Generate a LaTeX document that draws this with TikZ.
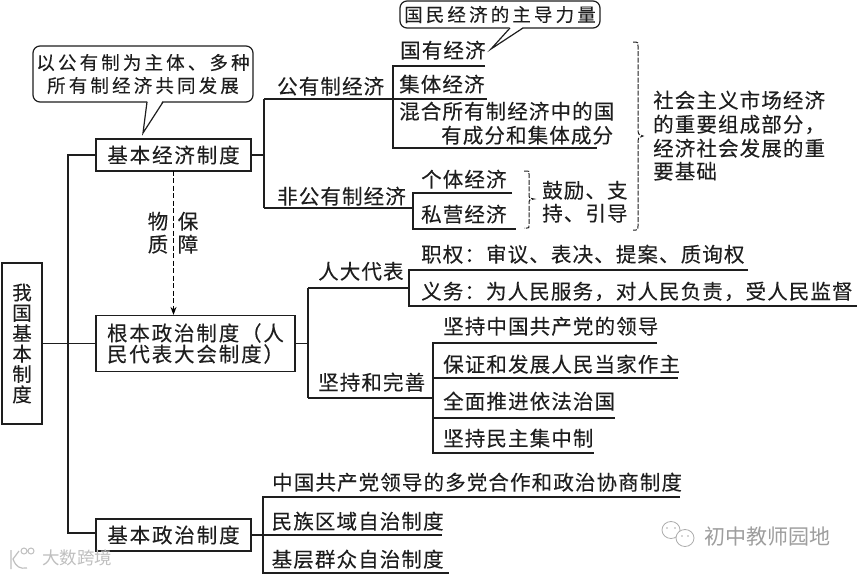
\documentclass[tikz,border=0pt]{standalone}
\usepackage{fontspec}
\usetikzlibrary{arrows.meta}
\setmainfont{Liberation Serif}
\newfontfamily\cjk[LetterSpace=5.5,FakeBold=0.12]{Noto Sans CJK SC}
\newfontfamily\cjkbox[LetterSpace=9,FakeBold=0.12]{Noto Sans CJK SC}
\newfontfamily\cjkwide[LetterSpace=17,FakeBold=0.08]{Noto Sans CJK SC}
\newfontfamily\cjkplain[FakeBold=0.12]{Noto Sans CJK SC}
\newfontfamily\cjkmark{Noto Sans CJK SC}
\definecolor{ink}{HTML}{1E1E1E}
\tikzset{
  ln/.style={draw=ink,line width=1.2pt},
  boxn/.style={draw=ink,line width=1.2pt,fill=white,inner sep=0pt,align=center,text=ink,font=\cjkbox\fontsize{20.5}{21}\selectfont},
  txt/.style={anchor=west,inner sep=0pt,text=ink,text height=16pt,text depth=2pt,font=\cjk\fontsize{20.5}{25}\selectfont},
  call/.style={draw=ink,line width=1.2pt,rounded corners=7pt,fill=white,inner sep=0pt,align=center,text=ink,font=\cjkwide\fontsize{18.5}{23}\selectfont},
  bracel/.style={draw=ink,line width=1pt,dash pattern=on 5pt off 1.6pt},
  dashl/.style={draw=black,line width=1.5pt,dash pattern=on 5pt off 2.5pt},
  wm/.style={anchor=west,inner sep=0pt,text=black!38,font=\cjkmark\fontsize{21}{24}\selectfont},
  wmline/.style={draw=black!32,line width=.8pt},
}
\begin{document}
\begin{tikzpicture}[x=1pt,y=-1pt,>={Stealth[length=8pt,width=6pt]}]
\useasboundingbox (0,0) rectangle (857,574);
\fill[white] (0,0) rectangle (857,574);

% main boxes
\node[boxn,minimum width=40pt,minimum height=161pt,font=\cjkplain\fontsize{19.5}{20.4}\selectfont] (root) at (22,343.5) {我\\国\\基\\本\\制\\度};
\node[boxn,minimum width=155pt,minimum height=32pt] (econ) at (173.5,155) {基本经济制度};
\node[boxn,minimum width=199pt,minimum height=56pt,align=left] (peop) at (195.5,343.5) {根本政治制度（人\\民代表大会制度）};
\node[boxn,minimum width=155pt,minimum height=32pt] (poli) at (173.5,535) {基本政治制度};

% trunk
\coordinate (tTop) at (68,155);
\coordinate (tBot) at (68,533);
\draw[ln] (econ.west) -- (tTop) -- (tBot) -- (poli.west |- tBot);
\draw[ln] (root.east) -- (peop.west);
\draw[dashl,->,xshift=-1pt] ([yshift=1pt]econ.south) -- (peop.north -| econ.south);

\node[txt,anchor=center] (wu) at (158,222) {物};
\node[txt,anchor=center] (zhi) at (158,245) {质};
\node[txt,anchor=center] (bao) at (188,222) {保};
\node[txt,anchor=center] (zhang) at (188,245) {障};

% economy
\coordinate (eJ) at (264,155);
\coordinate (eA) at (264,99);
\coordinate (eB) at (264,208);
\coordinate (pubJ) at (393,99);
\coordinate (pubT) at (393,66);
\coordinate (pubB) at (393,148);
\coordinate (prvJ) at (413,208);
\coordinate (prvT) at (413,193);
\coordinate (prvB) at (413,229);
\coordinate (u1) at (485,66);
\coordinate (u2) at (487,99);
\coordinate (u3) at (597,148);
\coordinate (u4) at (512,193);
\coordinate (u5) at (516,229);
\draw[ln] (econ.east) -- (eJ);
\draw[ln] (eA) -- (eB);
\draw[ln] (eA) -- (pubJ) -- (u2);
\draw[ln] (u1) -- (pubT) -- (pubB) -- (u3);
\draw[ln] (eB) -- (prvJ);
\draw[ln] (u4) -- (prvT) -- (prvB) -- (u5);

\node[txt] (t1) at (277,87) {公有制经济};
\node[txt] (t2) at (277,197) {非公有制经济};
\node[txt] (t3) at (400,51) {国有经济};
\node[txt] (t4) at (399,85) {集体经济};
\node[txt] (t5) at (399,112) {混合所有制经济中的国};
\node[txt] (t6) at (441,136) {有成分和集体成分};
\node[txt] (t7) at (421,180) {个体经济};
\node[txt] (t8) at (421,215) {私营经济};
\node[txt] (t9) at (542,191) {鼓励、支};
\node[txt] (t10) at (542,214) {持、引导};
\node[txt] (t11) at (653,101) {社会主义市场经济};
\node[txt] (t12) at (653,125) {的重要组成部分，};
\node[txt] (t13) at (653,149) {经济社会发展的重};
\node[txt] (t14) at (653,172) {要基础};

% braces
\draw[bracel] (633,42) -- (636,42) .. controls (638,42) and (638,43) .. (638,46) -- (638,131) .. controls (638,134) .. (643,136) .. controls (638,138) .. (638,141) -- (638,226) .. controls (638,229) and (638,230) .. (636,230) -- (633,230);
\draw[bracel] (524,171) -- (527,171) .. controls (529,171) .. (529,174) -- (529,196) .. controls (529,198) .. (534,199) .. controls (529,200) .. (529,202) -- (529,225) .. controls (529,228) .. (527,228) -- (524,228);

% callouts
\node[call,minimum width=220pt,minimum height=56pt] (c1) at (143,74) {以公有制为主体、多种\\所有制经济共同发展};
\coordinate (c1tip) at (143,133);
\draw[draw=none,fill=white] (147.5,100) -- (c1tip) -- (163,100) -- cycle;
\draw[ln] (147,102) -- (c1tip) -- (163,102);
\node[call,minimum width=200pt,minimum height=27pt] (c2) at (500,14.5) {国民经济的主导力量};
\coordinate (c2tip) at (491,49);
\draw[draw=none,fill=white] (510,27) -- (c2tip) -- (523,27) -- cycle;
\draw[ln] (510,28) -- (c2tip) -- (523,28);

% people's congress
\coordinate (pA) at (308,288);
\coordinate (pB) at (308,398);
\coordinate (dJ) at (409,288);
\coordinate (dT) at (409,270);
\coordinate (dB) at (409,306);
\coordinate (kJ) at (433,398);
\coordinate (k1) at (433,343);
\coordinate (k2) at (433,378);
\coordinate (k3) at (433,418);
\coordinate (k4) at (433,453);
\coordinate (v1) at (748,270);
\coordinate (v2) at (857,306);
\coordinate (w1) at (657,343);
\coordinate (w2) at (678,378);
\coordinate (w3) at (615,418);
\coordinate (w4) at (594,453);
\draw[ln] (peop.east) -- (peop.east -| pA);
\draw[ln] (pA) -- (pB);
\draw[ln] (pA) -- (dJ);
\draw[ln] (v1) -- (dT) -- (dB) -- (v2);
\draw[ln] (pB) -- (kJ);
\draw[ln] (w1) -- (k1) -- (k4) -- (w4);
\draw[ln] (k2) -- (w2);
\draw[ln] (k3) -- (w3);

\node[txt] (r1) at (318,272) {人大代表};
\node[txt] (r2) at (318,383) {坚持和完善};
\node[txt] (r3) at (421,255) {职权：审议、表决、提案、质询权};
\node[txt] (r4) at (421,292) {义务：为人民服务，对人民负责，受人民监督};
\node[txt] (r5) at (443,327) {坚持中国共产党的领导};
\node[txt] (r6) at (443,365) {保证和发展人民当家作主};
\node[txt] (r7) at (443,402) {全面推进依法治国};
\node[txt] (r8) at (443,439) {坚持民主集中制};

% political system
\coordinate (zT) at (263,497);
\coordinate (zB) at (263,573);
\coordinate (y1) at (680,497);
\coordinate (y2) at (442,535);
\coordinate (y3) at (449,573);
\draw[ln] (y1) -- (zT) -- (zB) -- (y3);
\draw[ln] (poli.east) -- (y2);
\node[txt] (b1) at (272,483) {中国共产党领导的多党合作和政治协商制度};
\node[txt] (b2) at (271.5,522) {民族区域自治制度};
\node[txt] (b3) at (271.5,560) {基层群众自治制度};

% watermarks
\node[wm] (wmA) at (704.5,537) {初中教师园地};
\node[wm,font=\cjkmark\fontsize{17.5}{20}\selectfont,text=black!25] (wmB) at (42,558) {大数跨境};
\draw[wmline] (671,530) ellipse (9pt and 8.5pt);
\draw[wmline,fill=white] (685,538) ellipse (9pt and 8.5pt);
\fill[black!32] (667,528) circle (.9pt) (675,528) circle (.9pt) (682,536) circle (.8pt) (688,536) circle (.8pt);
\draw[draw=black!25,line width=1.2pt] (11,550) -- (11,569) (19,551) -- (13,559) .. controls (16,567) and (20,569) .. (27,568);
\draw[draw=black!25,line width=1pt] (24,551) circle (3pt) (31,551) circle (3pt);
\end{tikzpicture}
\end{document}
